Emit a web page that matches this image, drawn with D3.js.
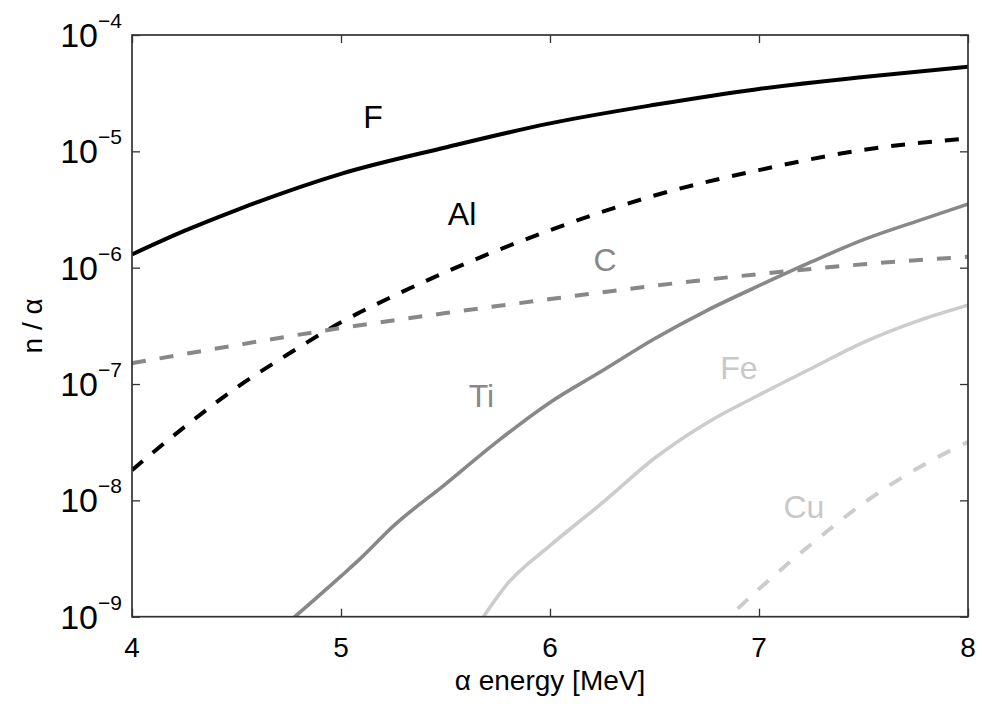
<!DOCTYPE html>
<html><head><meta charset="utf-8">
<script src="https://cdn.jsdelivr.net/npm/d3@7"></script>
<style>body{margin:0;background:#fff}svg{display:block}text{font-family:"Liberation Sans",Arial,sans-serif}</style>
</head><body>
<svg id="c" width="984" height="704"></svg>
<script>
// ---- data ----
const xTicks = [4, 5, 6, 7, 8];
const yTicks = [1e-9, 1e-8, 1e-7, 1e-6, 1e-5, 1e-4];
const yExponents = ["−9", "−8", "−7", "−6", "−5", "−4"];

const F_E  = [4, 4.25, 4.5, 5, 5.5, 6, 6.5, 7, 7.5, 8];
const F_V  = [1.30e-6, 2.07e-6, 3.13e-6, 6.41e-6, 1.08e-5, 1.74e-5, 2.51e-5, 3.44e-5, 4.36e-5, 5.33e-5];

const Al_E = [4, 4.25, 4.5, 4.75, 5, 5.25, 5.5, 6, 6.5, 7, 7.5, 8];
const Al_V = [1.82e-8, 4.26e-8, 9.3e-8, 1.82e-7, 3.39e-7, 5.7e-7, 9.15e-7, 2.10e-6, 4.17e-6, 6.9e-6, 1.03e-5, 1.29e-5];

const C_E  = [4, 4.5, 5, 5.5, 6, 6.5, 7, 7.5, 8];
const C_V  = [1.51e-7, 2.16e-7, 3.03e-7, 4.07e-7, 5.37e-7, 7.0e-7, 8.81e-7, 1.07e-6, 1.24e-6];

const Ti_E = [4.75, 5, 5.1, 5.25, 5.5, 5.75, 6, 6.25, 6.5, 6.75, 7, 7.25, 7.5, 7.75, 8];
const Ti_V = [9.0e-10, 2.23e-9, 3.25e-9, 6.0e-9, 1.38e-8, 3.23e-8, 6.95e-8, 1.30e-7, 2.45e-7, 4.28e-7, 7.0e-7, 1.12e-6, 1.74e-6, 2.49e-6, 3.52e-6];

const Fe_E = [5.65, 5.8, 6, 6.25, 6.5, 6.75, 7, 7.25, 7.5, 7.75, 8];
const Fe_V = [8.2e-10, 1.95e-9, 4.08e-9, 9.5e-9, 2.30e-8, 4.63e-8, 8.05e-8, 1.36e-7, 2.28e-7, 3.44e-7, 4.76e-7];

const Cu_E = [6.8, 7, 7.25, 7.5, 7.75, 8];
const Cu_V = [8.0e-10, 1.73e-9, 4.2e-9, 9.46e-9, 1.85e-8, 3.18e-8];

const seriesNames = ["F", "Al", "C", "Ti", "Fe", "Cu"];
const labelE = [5.153, 5.579, 6.263, 5.672, 6.904, 7.215];
const labelV = [1.585e-5, 2.32e-6, 9.35e-7, 6.32e-8, 1.10e-7, 7.03e-9];

// ---- layout ----
const L = 132, R = 968, T = 35, B = 616.7;
const svg = d3.select("#c");
const x = d3.scaleLinear().domain([4, 8]).range([L, R]);
const y = d3.scaleLog().domain([1e-9, 1e-4]).range([B, T]);

const styles = {
  F:  {color: "#000", dash: null, w: 4},
  Al: {color: "#000", dash: "14,13", w: 4},
  C:  {color: "#888", dash: "14,14", w: 4},
  Ti: {color: "#888", dash: null, w: 3.6},
  Fe: {color: "#cccccc", dash: null, w: 3.6},
  Cu: {color: "#cccccc", dash: "14,14", w: 4}
};
const labelColors = {F: "#000", Al: "#000", C: "#888", Ti: "#888", Fe: "#c8c8c8", Cu: "#c8c8c8"};

svg.append("defs").append("clipPath").attr("id", "clip")
  .append("rect").attr("x", L).attr("y", T).attr("width", R - L).attr("height", B - T);

const series = [
  ["F", F_E, F_V], ["Al", Al_E, Al_V], ["C", C_E, C_V],
  ["Ti", Ti_E, Ti_V], ["Fe", Fe_E, Fe_V], ["Cu", Cu_E, Cu_V]
];
const line = d3.line().x(d => x(d[0])).y(d => y(d[1])).curve(d3.curveMonotoneX);
const g = svg.append("g").attr("clip-path", "url(#clip)");
series.forEach(([name, E, V]) => {
  const s = styles[name];
  g.append("path").datum(E.map((e, i) => [e, V[i]]))
    .attr("d", line).attr("fill", "none")
    .attr("stroke", s.color).attr("stroke-width", s.w)
    .attr("stroke-dasharray", s.dash);
});

// ---- axes ----
const axColor = "#333";
const gx = svg.append("g").attr("transform", `translate(0,${B})`)
  .call(d3.axisBottom(x).tickValues(xTicks).tickSize(-8).tickFormat(""));
const gxt = svg.append("g").attr("transform", `translate(0,${T})`)
  .call(d3.axisTop(x).tickValues(xTicks).tickSize(-8).tickFormat(""));
const gy = svg.append("g").attr("transform", `translate(${L},0)`)
  .call(d3.axisLeft(y).tickValues(yTicks).tickSize(-8).tickFormat(""));
const gyr = svg.append("g").attr("transform", `translate(${R},0)`)
  .call(d3.axisRight(y).tickValues(yTicks).tickSize(-8).tickFormat(""));
[gx, gxt, gy, gyr].forEach(a => {
  a.select(".domain").remove();
  a.selectAll("line").attr("stroke", axColor).attr("stroke-width", 1.3);
});
svg.append("rect").attr("x", L).attr("y", T).attr("width", R - L).attr("height", B - T)
  .attr("fill", "none").attr("stroke", axColor).attr("stroke-width", 1.7);

// x tick labels
svg.append("g").selectAll("text").data(xTicks).join("text")
  .attr("x", d => x(d)).attr("y", B + 40).attr("text-anchor", "middle")
  .attr("font-size", 28).attr("fill", "#000").text(d => d);

// y tick labels
const yl = svg.append("g");
yTicks.forEach((v, i) => {
  const yy = y(v);
  yl.append("text").attr("x", 98).attr("y", yy + 12).attr("text-anchor", "end")
    .attr("font-size", 34).attr("fill", "#000").text("10");
  yl.append("text").attr("x", 98).attr("y", yy - 7).attr("text-anchor", "start")
    .attr("font-size", 21).attr("fill", "#000").text(yExponents[i]);
});

// axis titles
svg.append("text").attr("x", (L + R) / 2).attr("y", 690).attr("text-anchor", "middle")
  .attr("font-size", 28).attr("fill", "#000").text("α energy [MeV]");
svg.append("text").attr("transform", `translate(42,${(T + B) / 2}) rotate(-90)`)
  .attr("text-anchor", "middle").attr("font-size", 28).attr("fill", "#000").text("n / α");

// series labels
svg.append("g").selectAll("text").data(seriesNames).join("text")
  .attr("x", (d, i) => x(labelE[i])).attr("y", (d, i) => y(labelV[i]))
  .attr("text-anchor", "middle").attr("font-size", 32)
  .attr("fill", d => labelColors[d]).text(d => d);
</script>
</body></html>
